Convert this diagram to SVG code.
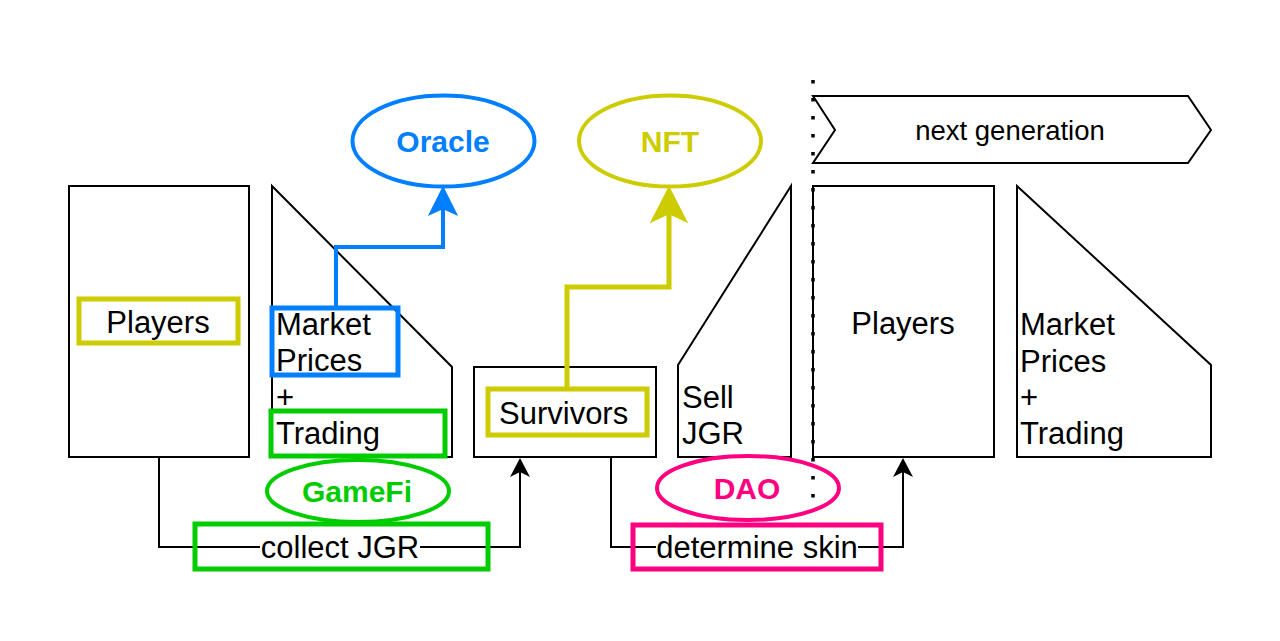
<svg xmlns="http://www.w3.org/2000/svg" width="1280" height="641" viewBox="0 0 1280 641">
<defs>
<style>
.shape{fill:#fff;stroke:#000;stroke-width:2}
.t{font-family:"Liberation Sans",Arial,sans-serif;font-size:31px;fill:#000}
.b{font-family:"Liberation Sans",Arial,sans-serif;font-size:30px;font-weight:bold}
.conn{fill:none;stroke:#000;stroke-width:2}
</style>
</defs>
<rect width="1280" height="641" fill="#fff"/>

<g id="players-left">
<rect class="shape" x="69" y="186" width="180" height="271"/>
<rect x="79" y="299" width="159" height="44" fill="none" stroke="#CCCC00" stroke-width="5"/>
<text class="t" x="158" y="333" text-anchor="middle">Players</text>
</g>

<g id="market-left">
<polygon class="shape" points="272,186 452,367 452,457 272,457"/>
<text class="t" x="276" y="335">Market</text>
<text class="t" x="276" y="371">Prices</text>
<text class="t" x="276" y="408">+</text>
<text class="t" x="276" y="444">Trading</text>
<rect x="272" y="308" width="126" height="67" fill="none" stroke="#007FFF" stroke-width="5"/>
<rect x="271" y="411" width="174" height="45" fill="none" stroke="#00CC00" stroke-width="5"/>
</g>

<g id="oracle">
<ellipse cx="443.5" cy="141" rx="91" ry="45.5" fill="#fff" stroke="#007FFF" stroke-width="4"/>
<text class="b" x="443" y="152" text-anchor="middle" fill="#007FFF">Oracle</text>
</g>

<g id="nft">
<ellipse cx="670" cy="141" rx="91" ry="45.5" fill="#fff" stroke="#CCCC00" stroke-width="4"/>
<text class="b" x="670" y="152" text-anchor="middle" fill="#CCCC00">NFT</text>
</g>

<g id="survivors">
<rect class="shape" x="474" y="367" width="182" height="90"/>
<rect x="488" y="389" width="159" height="46" fill="none" stroke="#CCCC00" stroke-width="5"/>
<text class="t" x="499" y="424">Survivors</text>
</g>

<g id="sell-jgr">
<polygon class="shape" points="678,365 791,186 791,457 678,457"/>
<text class="t" x="682" y="408">Sell</text>
<text class="t" x="682" y="444">JGR</text>
</g>

<g id="next-generation">
<polygon class="shape" points="813,96 1188,96 1211,130 1188,163 813,163 835,130"/>
<text class="t" x="1010" y="140" text-anchor="middle" style="font-size:27.5px">next generation</text>
</g>

<g id="players-right">
<rect class="shape" x="813" y="186" width="181" height="271"/>
<text class="t" x="903" y="334" text-anchor="middle">Players</text>
</g>

<g id="market-right">
<polygon class="shape" points="1017,186 1211,365 1211,457 1017,457"/>
<text class="t" x="1020" y="335">Market</text>
<text class="t" x="1020" y="372">Prices</text>
<text class="t" x="1020" y="408">+</text>
<text class="t" x="1020" y="444">Trading</text>
</g>

<g id="gamefi">
<ellipse cx="358" cy="491" rx="91" ry="31" fill="#fff" stroke="#00CC00" stroke-width="4"/>
<text class="b" x="357" y="502" text-anchor="middle" fill="#00CC00">GameFi</text>
</g>

<g id="dao">
<ellipse cx="748" cy="488" rx="91" ry="32" fill="#fff" stroke="#FF0080" stroke-width="4"/>
<text class="b" x="747" y="499" text-anchor="middle" fill="#FF0080">DAO</text>
</g>

<g id="connectors">
<path d="M336,306 V247 H443 V200" fill="none" stroke="#007FFF" stroke-width="4"/>
<polygon points="443,188 456,214 443,208 430,214" fill="#007FFF" stroke="#007FFF" stroke-width="2"/>
<path d="M567,387 V287 H669 V205" fill="none" stroke="#CCCC00" stroke-width="5"/>
<polygon points="669,188 686,221 669,213 652,221" fill="#CCCC00" stroke="#CCCC00" stroke-width="2"/>
<path class="conn" d="M159,457 V547 H520 V465"/>
<polygon points="520,458 530,477 520,472 510,477" fill="#000"/>
<path class="conn" d="M611,457 V547 H903 V465"/>
<polygon points="903,458 913,477 903,472 893,477" fill="#000"/>
</g>

<g id="collect-jgr">
<rect x="260" y="533" width="160" height="28" fill="#fff"/>
<text class="t" x="340" y="558" text-anchor="middle">collect JGR</text>
<rect x="195" y="524" width="293" height="45" fill="none" stroke="#00CC00" stroke-width="5"/>
</g>

<g id="determine-skin">
<rect x="656" y="533" width="202" height="28" fill="#fff"/>
<text class="t" x="757" y="558" text-anchor="middle">determine skin</text>
<rect x="633" y="525" width="248" height="44" fill="none" stroke="#FF0080" stroke-width="5"/>
</g>

<g id="divider">
<line x1="813" y1="80" x2="813" y2="502" stroke="#000" stroke-width="3.5" stroke-dasharray="3.5 14.5"/>
</g>
</svg>
